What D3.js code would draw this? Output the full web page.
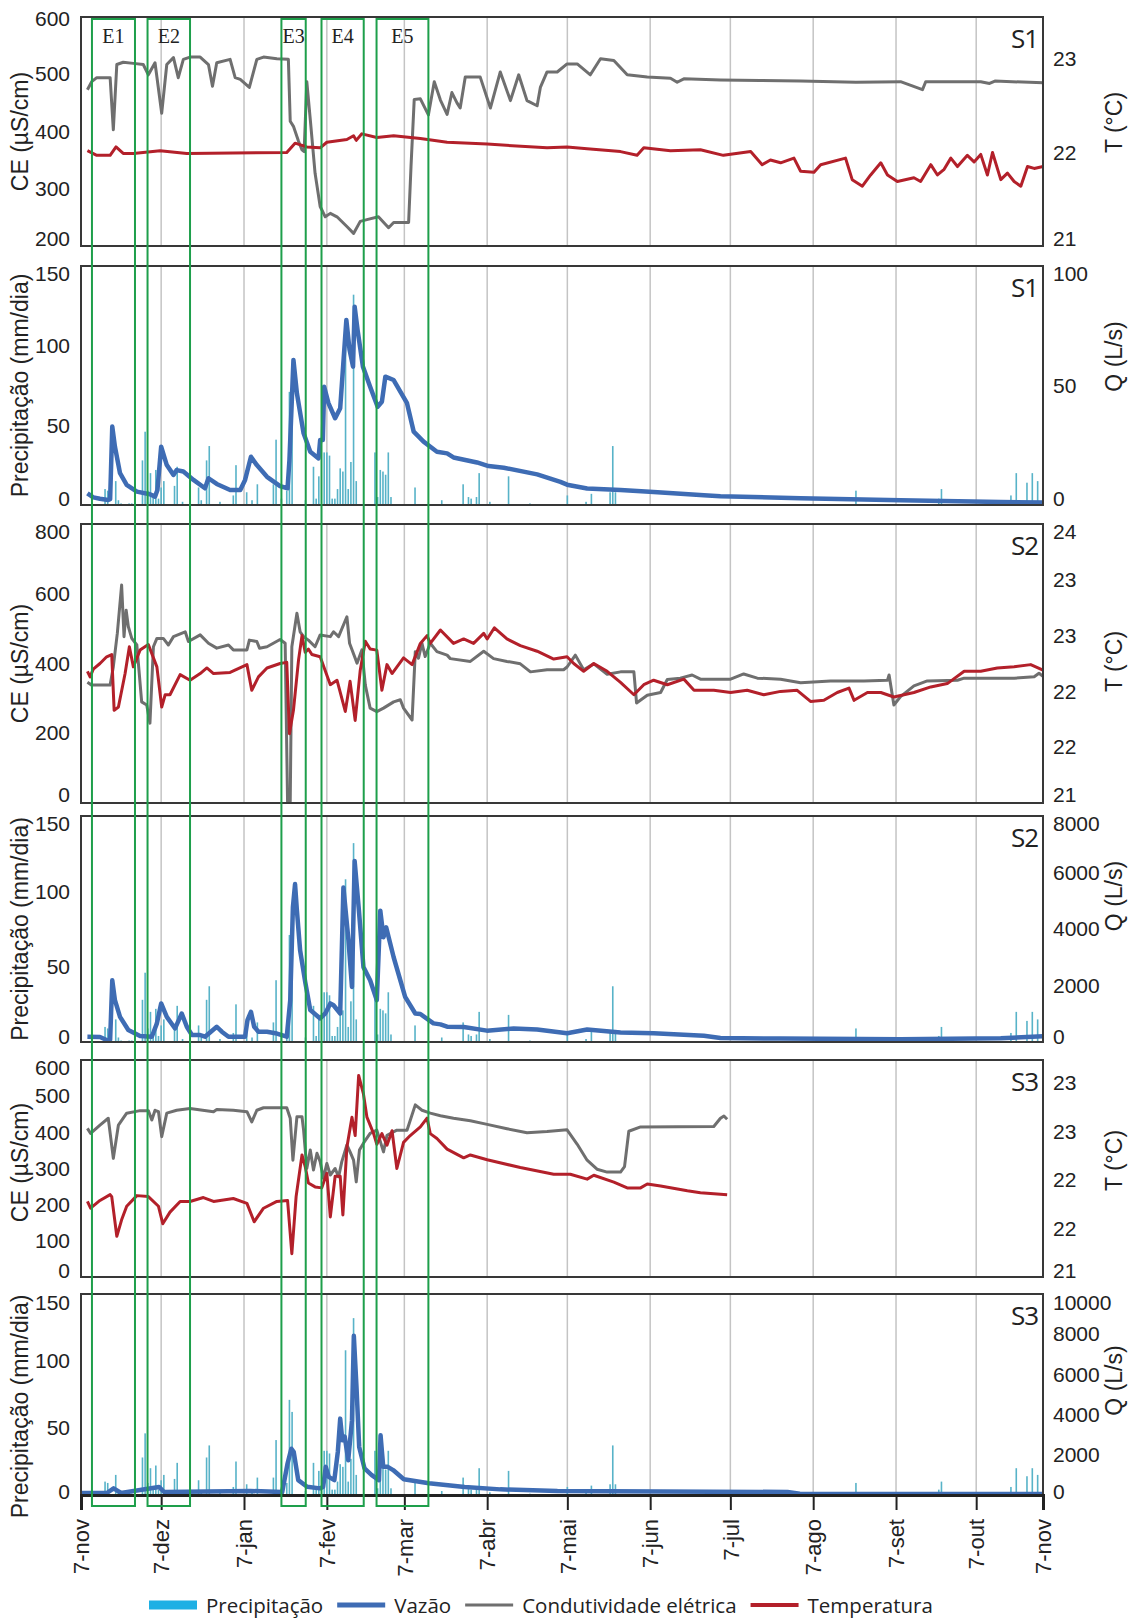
<!DOCTYPE html>
<html>
<head>
<meta charset="utf-8">
<script src="https://d3js.org/d3.v7.min.js"></script>
<title>CE, T, Q e precipitação S1-S3</title>
<style>
  body { margin: 0; background: #fff; }
  text { font-family: Arial, "Liberation Sans", sans-serif; fill: #222; }
</style>
</head>
<body>
<svg id="plot" width="1130" height="1618"></svg>
<script>
// ---------- data: [day after 7-nov-2011, value] ----------
const monthLabels = ['7-nov','7-dez','7-jan','7-fev','7-mar','7-abr','7-mai','7-jun','7-jul','7-ago','7-set','7-out','7-nov'];
// day offsets of the month ticks (last one is the end of the record)
const monthDays = [0, 30, 61, 92, 121, 152, 182, 213, 243, 274, 305, 335, 360];

const events = [
  {label: 'E1', start: 4.1, end: 20.2},
  {label: 'E2', start: 24.9, end: 40.8},
  {label: 'E3', start: 75, end: 84.1},
  {label: 'E4', start: 90, end: 105.8},
  {label: 'E5', start: 110.6, end: 130}
];

// precipitation (mm/dia)
const precip = [[0,25],[9,10],[10,9],[13,15],[14,3],[15,1],[18,1],[19,1],[23,28],[24,46],[25,9],[26,20],[27,6],[28,22],
  [29,4],[30,11],[31,15],[35,12],[36,24],[38,2],[44,11],[45,3],[47,28],[48,37],[52,2],[57,6],[58,25],[62,8],[64,3],
  [66,13],[72,13],[73,41],[75,4],[77,9],[78,71],[79,62],[84,3],[87,24],[88,4],[89,18],[91,33],[92,33],[93,31],[94,4],
  [95,4],[96,10],[97,23],[98,21],[99,108],[100,10],[101,27],[102,132],[103,15],[110,33],[111,5],[112,22],[113,21],
  [114,19],[115,33],[116,5],[125,11],[135,3],[143,13],[145,5],[146,4],[148,5],[149,20],[153,2],[160,18],[168,1],
  [182,6],[189,2],[191,7],[198,8],[199,37],[200,8],[290,9],[321,4],[322,10],[348,6],[350,20],[354,14],[356,20],[358,15]];

// S1
const s1CE = [[2.4,473],[4,487],[5.9,494],[10.9,494],[12.1,403],[13.4,517],[15.8,521],[19.6,519],[23.3,517],[25.2,499],
  [27.7,520],[30.2,432],[32.1,517],[34.6,529],[36.4,494],[38.3,526],[40.8,530],[44.6,530],[47.7,517],[49.2,479],
  [50.8,520],[55.8,526],[57.7,494],[59.6,491],[63,477],[65.8,526],[68.3,530],[73.3,527],[77.6,526],[78.3,418],
  [79.5,409],[81.4,383],[82.7,368],[83.5,365],[84.5,487],[85.8,421],[87.6,327],[89.5,269],[91.4,251],[93.3,257],
  [95.8,251],[99.5,234],[102,222],[104.5,243],[107,246],[111.3,251],[115.1,232],[117,241],[122.6,241],[123.5,339],
  [124.7,456],[127,457],[130,429],[132.2,487],[134.5,455],[137,430],[138.8,468],[140.7,450],[141.9,441],[143.8,495],
  [149.4,495],[153.2,441],[156.9,504],[160.7,454],[163.8,499],[166.9,454],[170.7,445],[171.9,477],[174.4,504],
  [178.2,504],[181.9,518],[185.7,518],[190.6,499],[194.4,527],[199.4,524],[204.4,499],[211.9,495],[220.6,493],
  [223.1,486],[225.6,492],[239.3,490],[254,489],[269.3,488],[290,486],[306.7,487],[314.9,473],[316.1,487],
  [336.7,487],[340,484],[342,488],[360,485]];
const s1T = [[2.4,22.02],[5.9,21.97],[10.9,21.97],[13.1,22.06],[15.8,21.99],[19.6,21.99],[29.6,22.02],[39.6,21.99],
  [77,22.0],[80.1,22.1],[84.5,22.06],[89.5,22.05],[92,22.11],[99.5,22.14],[102,22.18],[103,22.13],[105.1,22.2],
  [110.7,22.16],[117,22.18],[127,22.15],[137,22.11],[152,22.09],[174.4,22.05],[181.9,22.06],[189.4,22.04],
  [201.9,22.01],[208.1,21.97],[210.6,22.05],[220.6,22.02],[231.8,22.03],[240.4,21.97],[250.6,22.01],[254.9,21.87],
  [258,21.92],[261.8,21.89],[266.8,21.94],[269.3,21.8],[274.3,21.79],[276.8,21.87],[286.1,21.94],[288.6,21.71],
  [292.4,21.64],[295.5,21.76],[299.3,21.89],[301.8,21.76],[305.5,21.69],[311.7,21.73],[314.2,21.69],[318,21.87],
  [320.5,21.76],[323,21.82],[325.5,21.94],[328,21.85],[331.7,21.97],[334.2,21.9],[336.7,21.98],[339.2,21.76],
  [341.1,22.0],[344.2,21.71],[346.7,21.78],[349.2,21.69],[351.7,21.64],[354.2,21.85],[356.7,21.83],[360,21.85]];
const s1Q = [[2.4,4.9],[4.6,3.2],[7.1,2.6],[10.2,2.1],[10.9,2.4],[11.7,32.8],[12.7,24.4],[14.6,13.3],[17.1,8.4],
  [20.9,5.6],[25.8,4.5],[27.7,3.5],[28.6,6.3],[30,24.4],[32.1,16.7],[34.6,12.6],[35.8,14.6],[38.3,14],[42.1,10.5],
  [46.4,7],[47.7,11.2],[50.8,8.8],[55.8,6.3],[59.6,6.3],[61.4,10.5],[63.6,20.2],[65.8,16.7],[69.6,11.8],[74.5,7.9],
  [77.3,7],[78,18.8],[79.5,60.7],[80.8,46.7],[83.3,30],[85.8,22.3],[88.9,19.5],[89.5,27.2],[90.5,27.2],[91,49.5],
  [92.6,42.6],[95.1,36.3],[97,40.5],[99.3,77.4],[100.5,64.9],[101.8,57.9],[102.4,83],[103.5,73.2],[105.5,57.9],
  [108.2,49.5],[111,41.1],[112.6,43.2],[113.9,53.7],[117,52.3],[122,42.6],[124.5,30.7],[128.2,26.5],[133.2,22.3],
  [137,21.6],[139.4,19.9],[148.2,17.8],[152.5,16.3],[158.2,15.6],[170.7,12.8],[179.4,9.7],[181.9,8.5],[189.4,6.9],
  [201.9,6.3],[214.3,5.4],[233.1,4.1],[239.3,3.7],[269.3,2.8],[306.7,2],[344.2,1.3],[360,1]];

// S2
const s2CE = [[2.4,346],[4,338],[10.9,338],[12.1,391],[13.6,487],[15.2,625],[16.1,477],[16.9,553],[17.7,506],[19,472],
  [20.9,453],[22.7,290],[24.6,281],[25.8,229],[27.1,448],[28.4,472],[30.8,472],[32.7,453],[34.6,477],[39,491],
  [40.2,463],[44.6,482],[47.7,458],[50.8,444],[55.2,453],[57,439],[62.1,439],[63,467],[65.8,463],[66.8,444],
  [69.6,448],[74.5,469],[76.4,458],[77.3,4],[78.3,4],[78.9,448],[80.8,544],[82,491],[83.3,477],[85.1,467],[87.6,448],
  [89.5,482],[93.3,477],[94.5,491],[96.4,477],[99.5,534],[100.5,458],[103.3,401],[105.1,439],[106.4,338],[108.2,272],
  [110.7,262],[113.2,272],[117,290],[119.5,296],[120.7,272],[123.9,238],[125.1,434],[126.3,415],[127.6,458],
  [128.8,420],[130.7,458],[133.2,434],[137,424],[138.2,414],[145.7,406],[150.7,435],[154.4,414],[159.4,406],
  [164.4,399],[168.2,376],[174.4,382],[180.6,382],[181.9,390],[185,424],[188.1,382],[191.9,399],[196.9,369],
  [201.9,376],[206.9,376],[207.9,287],[211.9,309],[216.9,317],[219.4,354],[224.3,358],[228.7,367],[231.8,355],
  [243.1,355],[248,370],[253.1,358],[261.8,355],[269.3,345],[280.5,350],[293,350],[301.8,352],[302.4,367],
  [304.2,281],[306.7,305],[311.7,336],[316.7,350],[328,352],[330.5,358],[349.2,358],[356.7,362],[358.5,372],[360,363]];
const s2T = [[2.4,22.18],[3.4,22.13],[4.6,22.2],[7.1,22.25],[9.6,22.31],[11.5,22.33],[12.4,21.83],[14,21.86],
  [16.5,22.16],[18.1,22.4],[19.6,22.22],[22.1,22.37],[25.2,22.42],[28.4,22.22],[30.2,21.86],[31.5,21.97],[33.3,21.97],
  [37.1,22.15],[40.8,22.1],[44.6,22.16],[47.1,22.21],[49.6,22.16],[55.8,22.17],[62.1,22.24],[63.9,22.01],[66.4,22.13],
  [69.6,22.21],[74.5,22.25],[77,22.26],[78,21.62],[79.5,21.83],[81.4,22.28],[82.7,22.5],[83.9,22.35],[85.1,22.38],
  [86.4,22.33],[89.5,22.31],[93.3,22.06],[95.8,22.1],[98.9,21.82],[100.7,22.09],[102.6,21.74],[104.5,22.19],
  [106.4,22.45],[108.2,22.38],[110.7,22.37],[112.6,22.01],[114.5,22.24],[116.4,22.16],[120.7,22.3],[123.9,22.24],
  [127,22.43],[129.5,22.5],[130.7,22.43],[134.5,22.55],[139.4,22.43],[143.2,22.47],[146.9,22.43],[150.7,22.52],
  [152,22.47],[154.7,22.57],[159.4,22.47],[164.4,22.41],[170.7,22.36],[176.9,22.29],[181.9,22.31],[184.4,22.25],
  [188.1,22.18],[191.9,22.25],[196.9,22.18],[201.9,22.08],[206.9,21.97],[210.6,22.06],[214.3,22.1],[219.4,22.06],
  [225.6,22.11],[229.4,22.01],[236.8,22.01],[243.1,21.99],[249.3,22.01],[255.5,21.97],[261.8,22.0],[268,22.01],
  [273,21.91],[278,21.92],[283,21.99],[287.4,22.03],[289.3,21.92],[294.3,21.99],[299.3,21.99],[304.2,21.95],
  [311.7,21.99],[318,22.04],[324.2,22.07],[330.5,22.18],[336.7,22.18],[342.9,22.21],[349.2,22.22],[355.4,22.24],[360,22.19]];
const s2Q = [[2.4,187],[7.1,176],[10.2,46],[10.9,70],[11.7,2185],[12.7,1480],[14.6,890],[17.7,423],[22.1,211],
  [26.5,187],[28.4,660],[30,1364],[32.1,890],[35.2,480],[37.7,1010],[39.6,540],[41.5,247],[44.6,247],[46.4,187],
  [50.8,540],[52.7,364],[55.2,187],[61.4,187],[62.3,775],[63.6,1070],[64.8,540],[66.4,364],[69.6,364],[73.3,300],
  [77,187],[78.3,1480],[79.3,4770],[80.1,5590],[80.8,4650],[82,3240],[83.9,2125],[85.8,1130],[89.5,835],[91.4,1010],
  [93.3,1364],[94.5,1300],[97,1010],[98.2,5470],[100.1,3590],[101.4,1950],[102.4,6410],[103.9,4770],[105.7,2650],
  [108.2,2185],[110.7,1480],[112,4650],[113.2,3710],[114.2,4060],[117,3000],[121.3,1600],[125.1,1010],[127,990],
  [131.9,660],[134.5,624],[137,540],[143.2,532],[151.9,402],[161.9,476],[170.7,440],[181.9,310],[189.4,440],
  [201.9,340],[214.3,310],[233.1,220],[239.3,145],[261.8,120],[306.7,100],[344.2,130],[360,200]];

// S3
const s3CE = [[2.4,411],[3.6,397],[7.1,420],[10.2,439],[12.1,328],[14,420],[17.1,453],[22.1,460],[25.2,460],[26.5,434],
  [27.7,461],[29,457],[30.2,388],[32.1,453],[35.8,461],[40.8,466],[49.6,457],[50.8,463],[57,461],[62.1,457],[63.9,429],
  [65.8,461],[68.3,468],[77,468],[78.3,439],[79.3,323],[80.8,443],[82.7,443],[83.3,406],[84.5,300],[85.8,351],[87,296],
  [88.3,342],[89.5,319],[90.7,273],[92,314],[93.3,282],[95.1,300],[96.4,277],[97.6,319],[99.5,365],[100.7,346],
  [102,323],[103,263],[104.2,351],[105.7,370],[108.2,397],[110.7,406],[113.2,346],[114.5,392],[118.2,406],[122,406],
  [125.1,476],[127.6,461],[130.7,453],[134.5,446],[139.4,439],[145.7,432],[152,422],[159.4,410],[166.9,399],
  [174.4,402],[181.9,407],[185.7,367],[189.4,323],[193.1,298],[196.9,290],[201.9,290],[203.4,305],[205,403],
  [209.4,415],[236.8,416],[239.3,439],[240.6,445],[241.8,436]];
const s3T = [[2.4,21.78],[3.6,21.71],[7.1,21.79],[10.9,21.85],[11.5,21.83],[13.4,21.42],[15.2,21.59],[17.1,21.73],
  [20.9,21.84],[25.2,21.83],[29,21.73],[30.6,21.55],[33.3,21.67],[37.1,21.78],[40.8,21.78],[45.8,21.82],[49.6,21.78],
  [57,21.81],[62.1,21.76],[64.8,21.57],[68.3,21.71],[73.3,21.78],[77.3,21.79],[78.9,21.24],[80.5,21.83],[82.7,22.26],
  [83.9,22.14],[85.1,21.97],[87.6,21.93],[90.1,21.92],[92,22.07],[93.3,21.62],[95.1,22.04],[97,22.04],[98,21.64],
  [99.5,22.34],[101.4,22.65],[102.6,22.46],[103.9,23.08],[105.7,22.89],[107,22.65],[109.5,22.48],[110.7,22.37],
  [112.6,22.48],[114.5,22.36],[116.4,22.51],[118.2,22.12],[120.7,22.39],[123.2,22.46],[127,22.55],[129.5,22.64],
  [130.7,22.48],[133.2,22.43],[137,22.32],[143.2,22.23],[145.7,22.26],[152,22.21],[164.4,22.13],[176.9,22.06],
  [183.1,22.06],[189.4,22.01],[191.9,22.05],[199.4,21.98],[204.4,21.92],[209.4,21.92],[211.9,21.96],[216.9,21.94],
  [226.9,21.89],[231.8,21.87],[241.8,21.85]];
const s3Q = [[0,100],[9.7,100],[12.2,330],[15,100],[29.2,400],[31.1,150],[63.3,200],[75.3,150],[77.3,1570],[78.7,2300],
  [79.6,2150],[81.3,740],[84.6,410],[89.4,330],[90.6,400],[91.6,1400],[92.7,900],[94.8,740],[96.1,2140],[97,3800],
  [97.8,2720],[98.7,2900],[100,1730],[101.4,3700],[102.1,7920],[103.1,5360],[104.1,2390],[106.1,1320],[108.8,990],
  [111.5,740],[112.1,2970],[113.1,1400],[114.8,1400],[116.8,1240],[120.8,780],[130.2,580],[143.6,400],[156.9,280],
  [178.3,200],[264.4,150],[269,60],[360,50]];

// axis ticks
const precipTicks = [0, 50, 100, 150];
const ceTicks1 = [200, 300, 400, 500, 600];
const tTicks1 = [21, 22, 23];
const qTicks1 = [0, 50, 100];
const ceTicks2 = [0, 200, 400, 600, 800];
const tTicks2 = [21, 21.5, 22, 22.5, 23, 23.5];
const tLabels2 = ['21', '22', '22', '23', '23', '24'];
const qTicks2 = [0, 2000, 4000, 6000, 8000];
const ceTicks3 = [0, 100, 200, 300, 400, 500, 600];
const tTicks3 = [21, 21.5, 22, 22.5, 23];
const tLabels3 = ['21', '22', '22', '23', '23'];
const qTicks3 = [0, 2000, 4000, 6000, 8000, 10000];

// ---------- setup ----------
const svg = d3.select('svg#plot');
const X0 = 81, X1 = 1043;
const start = Date.UTC(2011, 10, 7);
const toDate = d => new Date(start + d * 864e5);
const x = d3.scaleUtc().domain([toDate(0), toDate(360)]).range([X0, X1]);

const colors = {ce: '#6f6f6f', t: '#b3202a', q: '#3e6cb4', p: '#58b3c8', pLegend: '#1eb0e4', box: '#1e9f4b'};

const panels = [
  {kind: 'chem', top: 17, bottom: 246, ce: s1CE, t: s1T, ceDomain: [200, 600], ceTicks: ceTicks1,
   tDomain: [21, 23.45], tTicks: tTicks1, tLabels: null, name: 'S1', topPad: 2, botPad: 7, rOff: -9, lOff: 0},
  {kind: 'flow', top: 266, bottom: 505, q: s1Q, qDomain: [0, 100], qTicks: qTicks1,
   name: 'S1', topPad: 8, botPad: 6, rOff: -29, lOff: 0},
  {kind: 'chem', top: 524, bottom: 803, ce: s2CE, t: s2T, ceDomain: [0, 800], ceTicks: ceTicks2,
   tDomain: [21, 23.5], tTicks: tTicks2, tLabels: tLabels2, name: 'S2', topPad: 8, botPad: 8, rOff: -2, lOff: 0},
  {kind: 'flow', top: 816, bottom: 1042, q: s2Q, qDomain: [0, 8000], qTicks: qTicks2,
   name: 'S2', topPad: 8, botPad: 5, rOff: -33, lOff: 0},
  {kind: 'chem', top: 1060, bottom: 1277, ce: s3CE, t: s3T, ceDomain: [0, 600], ceTicks: ceTicks3,
   tDomain: [21, 23.24], tTicks: tTicks3, tLabels: tLabels3, name: 'S3', topPad: 8, botPad: 6, rOff: -8, lOff: -6},
  {kind: 'flow', top: 1294, bottom: 1495, q: s3Q, qDomain: [0, 10000], qTicks: qTicks3,
   name: 'S3', topPad: 9, botPad: 3, rOff: -14, lOff: 12}
];

const gridDays = monthDays.slice(1, -1);

// axis helper: labels only, pushed inside the panel at the ends
function drawAxis(p, scale, ticks, labels, side) {
  const axis = (side === 'left' ? d3.axisLeft(scale) : d3.axisRight(scale))
    .tickValues(ticks).tickSize(0).tickPadding(side === 'left' ? 11 : 10)
    .tickFormat((d, i) => labels ? labels[i] : d);
  const g = svg.append('g')
    .attr('transform', `translate(${side === 'left' ? X0 : X1},0)`)
    .call(axis);
  g.select('.domain').remove();
  g.selectAll('.tick').each(function (d) {
    const y = scale(d);
    const cy = Math.max(p.top + p.topPad, Math.min(p.bottom - p.botPad, y));
    d3.select(this).select('text').attr('y', cy - y);
  });
  g.selectAll('text')
    .style('font-size', '21px')
    .style('font-family', 'Arial, "Liberation Sans", sans-serif')
    .attr('fill', '#222');
}

function axisTitle(txt, xPos, yPos) {
  svg.append('text')
    .attr('transform', `translate(${xPos},${yPos}) rotate(-90)`)
    .attr('text-anchor', 'middle')
    .style('font-size', '23px')
    .text(txt);
}

panels.forEach(p => {
  const g = svg.append('g');
  const mid = (p.top + p.bottom) / 2;

  // vertical month gridlines
  g.selectAll('line.grid').data(gridDays).join('line')
    .attr('x1', d => x(toDate(d))).attr('x2', d => x(toDate(d)))
    .attr('y1', p.top).attr('y2', p.bottom)
    .style('stroke', '#c4c4c4').style('stroke-width', 1.5);

  if (p.kind === 'chem') {
    const yCE = d3.scaleLinear().domain(p.ceDomain).range([p.bottom, p.top]);
    const yT = d3.scaleLinear().domain(p.tDomain).range([p.bottom, p.top]);

    g.append('path').datum(p.ce)
      .attr('d', d3.line().x(d => x(toDate(d[0]))).y(d => yCE(d[1])))
      .style('fill', 'none').style('stroke', colors.ce).style('stroke-width', 3)
      .style('stroke-linejoin', 'round');
    g.append('path').datum(p.t)
      .attr('d', d3.line().x(d => x(toDate(d[0]))).y(d => yT(d[1])))
      .style('fill', 'none').style('stroke', colors.t).style('stroke-width', 3)
      .style('stroke-linejoin', 'round');

    drawAxis(p, yCE, p.ceTicks, null, 'left');
    drawAxis(p, yT, p.tTicks, p.tLabels, 'right');
    axisTitle('CE (µS/cm)', 28, mid + p.lOff);
    axisTitle('T (°C)', 1122, mid + p.rOff);
  } else {
    const yP = d3.scaleLinear().domain([0, 150]).range([p.bottom, p.top]);
    const yQ = d3.scaleLinear().domain(p.qDomain).range([p.bottom, p.top]);

    g.selectAll('rect.rain').data(precip).join('rect')
      .attr('x', d => x(toDate(d[0])) - 0.8)
      .attr('width', 1.6)
      .attr('y', d => yP(d[1]))
      .attr('height', d => p.bottom - yP(d[1]))
      .style('fill', colors.p);

    g.append('path').datum(p.q)
      .attr('d', d3.line().x(d => x(toDate(d[0]))).y(d => yQ(d[1])))
      .style('fill', 'none').style('stroke', colors.q).style('stroke-width', 4.5)
      .style('stroke-linejoin', 'round');

    drawAxis(p, yP, precipTicks, null, 'left');
    drawAxis(p, yQ, p.qTicks, null, 'right');
    axisTitle('Precipitação (mm/dia)', 28, mid + p.lOff);
    axisTitle('Q (L/s)', 1122, mid + p.rOff);
  }

  // frame
  g.append('rect')
    .attr('x', X0).attr('y', p.top)
    .attr('width', X1 - X0).attr('height', p.bottom - p.top)
    .style('fill', 'none').style('stroke', '#383838').style('stroke-width', 2);

  // station label
  svg.append('text')
    .attr('x', X1 - 5).attr('y', p.top + 31)
    .attr('text-anchor', 'end')
    .style('font-family', '"Open Sans", sans-serif')
    .style('font-size', '26px')
    .style('letter-spacing', '-1px')
    .text(p.name);
});

// ---------- bottom time axis ----------
const last = panels[panels.length - 1];
const xAxis = svg.append('g')
  .attr('transform', `translate(0,${last.bottom})`)
  .call(d3.axisBottom(x)
    .tickValues(monthDays.map(toDate))
    .tickSize(15)
    .tickFormat((d, i) => monthLabels[i]));
xAxis.select('.domain').style('stroke', '#222').style('stroke-width', 3);
xAxis.selectAll('.tick line').style('stroke', '#222').style('stroke-width', 2);
xAxis.selectAll('.tick text')
  .attr('transform', 'rotate(-90)')
  .attr('text-anchor', 'end')
  .attr('x', -24).attr('y', 0).attr('dy', '0.35em')
  .style('font-size', '22px')
  .style('font-family', 'Arial, "Liberation Sans", sans-serif')
  .attr('fill', '#222');

// ---------- event boxes ----------
const boxTop = 19, boxBottom = 1506;
svg.selectAll('rect.event').data(events).join('rect')
  .attr('x', d => x(toDate(d.start)))
  .attr('width', d => x(toDate(d.end)) - x(toDate(d.start)))
  .attr('y', boxTop).attr('height', boxBottom - boxTop)
  .style('fill', 'none').style('stroke', colors.box).style('stroke-width', 2);
svg.selectAll('text.event').data(events).join('text')
  .attr('x', d => (x(toDate(d.start)) + x(toDate(d.end))) / 2)
  .attr('y', 43)
  .attr('text-anchor', 'middle')
  .style('font-family', '"Liberation Serif", "Times New Roman", serif')
  .style('font-size', '20px')
  .text(d => d.label);

// ---------- legend ----------
const legendItems = [
  {label: 'Precipitação', color: colors.pLegend, w: 9},
  {label: 'Vazão', color: colors.q, w: 5},
  {label: 'Condutividade elétrica', color: colors.ce, w: 3},
  {label: 'Temperatura', color: colors.t, w: 4}
];
let lx = 149;
const ly = 1605;
legendItems.forEach(item => {
  svg.append('line')
    .attr('x1', lx).attr('x2', lx + 48)
    .attr('y1', ly).attr('y2', ly)
    .style('stroke', item.color).style('stroke-width', item.w);
  const t = svg.append('text')
    .attr('x', lx + 57).attr('y', ly + 8)
    .style('font-family', '"Open Sans", sans-serif')
    .style('font-size', '20.5px')
    .text(item.label);
  lx = lx + 57 + t.node().getComputedTextLength() + 14;
});
</script>
</body>
</html>
